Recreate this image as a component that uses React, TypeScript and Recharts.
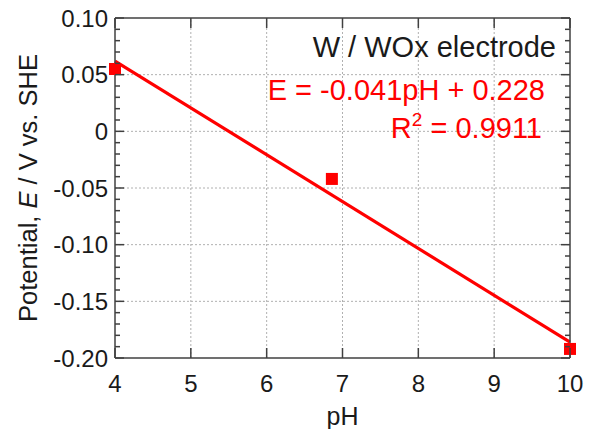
import { ComposedChart, Line, Scatter, XAxis, YAxis, ReferenceLine } from "recharts";

// measured points
const phValues = [4, 6.86, 10];
const potentialValues = [0.055, -0.042, -0.192];
// linear fit drawn in the figure (ends only)
const fitValues = [0.062, null, -0.186];

const xTicks = [4, 5, 6, 7, 8, 9, 10];
const xGrid = [5, 6, 7, 8, 9];
const yMajorTicks = [-0.2, -0.15, -0.1, -0.05, 0, 0.05, 0.1];
const yAllTicks = [
  -0.2, -0.19, -0.18, -0.17, -0.16, -0.15, -0.14, -0.13, -0.12, -0.11,
  -0.1, -0.09, -0.08, -0.07, -0.06, -0.05, -0.04, -0.03, -0.02, -0.01,
  0, 0.01, 0.02, 0.03, 0.04, 0.05, 0.06, 0.07, 0.08, 0.09, 0.1,
];
const yGrid = [-0.15, -0.1, -0.05, 0, 0.05];

const rows = phValues.map((ph, i) => ({
  ph,
  potential: potentialValues[i],
  fit: fitValues[i],
}));

const W = 593;
const H = 429;
const TOP = 18;
const BOTTOM = 71;
const LEFT = 115;
const RIGHT = 23;
const PLOT_W = W - LEFT - RIGHT;
const PLOT_H = H - TOP - BOTTOM;

const FONT = '"Liberation Sans", Arial, sans-serif';
const AXIS = "#404040";
const RED = "#ff0000";
const TEXT = "#1a1a1a";
const GRID = "#b0b0b0";

const isMajor = (v: number) => yMajorTicks.some((m) => Math.abs(m - v) < 1e-6);
const fmtY = (v: number) => (Math.abs(v) < 1e-9 ? "0" : v.toFixed(2));

// left axis tick: inward marks on both left and right frame + label
const LeftTick = (props: any) => {
  const { x, y, payload } = props;
  const len = isMajor(payload.value) ? 9 : 5;
  return (
    <g>
      <line x1={x} y1={y} x2={x + len} y2={y} stroke={AXIS} strokeWidth={1.5} />
      <line x1={x + PLOT_W} y1={y} x2={x + PLOT_W - len} y2={y} stroke={AXIS} strokeWidth={1.5} />
      {isMajor(payload.value) && (
        <text x={x - 7} y={y} dy="0.36em" textAnchor="end" fontSize={24} fill={TEXT} fontFamily={FONT}>
          {fmtY(payload.value)}
        </text>
      )}
    </g>
  );
};

// bottom axis tick: inward marks on bottom and top frame + label
const BottomTick = (props: any) => {
  const { x, y, payload } = props;
  return (
    <g>
      <line x1={x} y1={y} x2={x} y2={y - 10} stroke={AXIS} strokeWidth={1.5} />
      <line x1={x} y1={y - PLOT_H} x2={x} y2={y - PLOT_H + 10} stroke={AXIS} strokeWidth={1.5} />
      <text x={x} y={y + 34} textAnchor="middle" fontSize={24} fill={TEXT} fontFamily={FONT}>
        {payload.value}
      </text>
    </g>
  );
};

const YTitle = (props: any) => {
  const vb = props.viewBox || { x: 0, y: TOP, width: LEFT, height: PLOT_H };
  const cx = vb.x + 37;
  const cy = vb.y + vb.height / 2;
  return (
    <text
      x={cx}
      y={cy}
      transform={`rotate(-90 ${cx} ${cy})`}
      textAnchor="middle"
      fontSize={25.5}
      fill={TEXT}
      fontFamily={FONT}
    >
      {"Potential, "}
      <tspan fontStyle="italic">E</tspan>
      {" / V vs. SHE"}
    </text>
  );
};

const SquareDot = (props: any) => {
  const { cx, cy } = props;
  return <rect x={cx - 6} y={cy - 6} width={12} height={12} fill={RED} />;
};

export default function App() {
  return (
    <div style={{ position: "absolute", left: 0, top: 0, width: W, height: H }}>
      <ComposedChart
        width={W}
        height={H}
        data={rows}
        margin={{ top: 0, right: 0, bottom: 0, left: 0 }}
        style={{ fontFamily: FONT }}
      >
        <XAxis
          xAxisId="b"
          dataKey="ph"
          type="number"
          domain={[4, 10]}
          ticks={xTicks}
          interval={0}
          height={BOTTOM}
          tickSize={0}
          tickMargin={0}
          tickLine={false}
          axisLine={{ stroke: AXIS, strokeWidth: 1.5 }}
          tick={<BottomTick />}
          label={{ value: "pH", position: "insideBottom", offset: 4, fontSize: 25, fill: TEXT }}
        />
        <XAxis
          xAxisId="t"
          orientation="top"
          type="number"
          domain={[4, 10]}
          height={TOP}
          tick={false}
          tickLine={false}
          axisLine={{ stroke: AXIS, strokeWidth: 1.5 }}
        />
        <YAxis
          yAxisId="l"
          type="number"
          domain={[-0.2, 0.1]}
          ticks={yAllTicks}
          interval={0}
          width={LEFT}
          tickSize={0}
          tickMargin={0}
          tickLine={false}
          axisLine={{ stroke: AXIS, strokeWidth: 1.5 }}
          tick={<LeftTick />}
          label={{ content: <YTitle /> }}
        />
        <YAxis
          yAxisId="r"
          orientation="right"
          type="number"
          domain={[-0.2, 0.1]}
          width={RIGHT}
          tick={false}
          tickLine={false}
          axisLine={{ stroke: AXIS, strokeWidth: 1.5 }}
        />
        {xGrid.map((v) => (
          <ReferenceLine
            key={`gx-${v}`}
            xAxisId="b"
            yAxisId="l"
            x={v}
            stroke={GRID}
            strokeWidth={1}
            strokeDasharray="2 2"
          />
        ))}
        {yGrid.map((v) => (
          <ReferenceLine
            key={`gy-${v}`}
            xAxisId="b"
            yAxisId="l"
            y={v}
            stroke={GRID}
            strokeWidth={1}
            strokeDasharray="2 2"
          />
        ))}
        <Line
          xAxisId="b"
          yAxisId="l"
          dataKey="fit"
          stroke={RED}
          strokeWidth={3.2}
          dot={false}
          connectNulls
          isAnimationActive={false}
        />
        <Scatter
          xAxisId="b"
          yAxisId="l"
          dataKey="potential"
          fill={RED}
          shape={<SquareDot />}
          isAnimationActive={false}
        />
      </ComposedChart>
      <svg
        width={W}
        height={H}
        style={{ position: "absolute", left: 0, top: 0, pointerEvents: "none" }}
        fontFamily={FONT}
      >
        <text x={556} y={57} textAnchor="end" fontSize={29} fill={TEXT}>
          W / WOx electrode
        </text>
        <text x={545} y={100} textAnchor="end" fontSize={29} fill={RED}>
          E = -0.041pH + 0.228
        </text>
        <text x={542} y={138} textAnchor="end" fontSize={29} fill={RED}>
          R<tspan fontSize={19} dy={-12}>2</tspan>
          <tspan dy={12}> = 0.9911</tspan>
        </text>
      </svg>
    </div>
  );
}
